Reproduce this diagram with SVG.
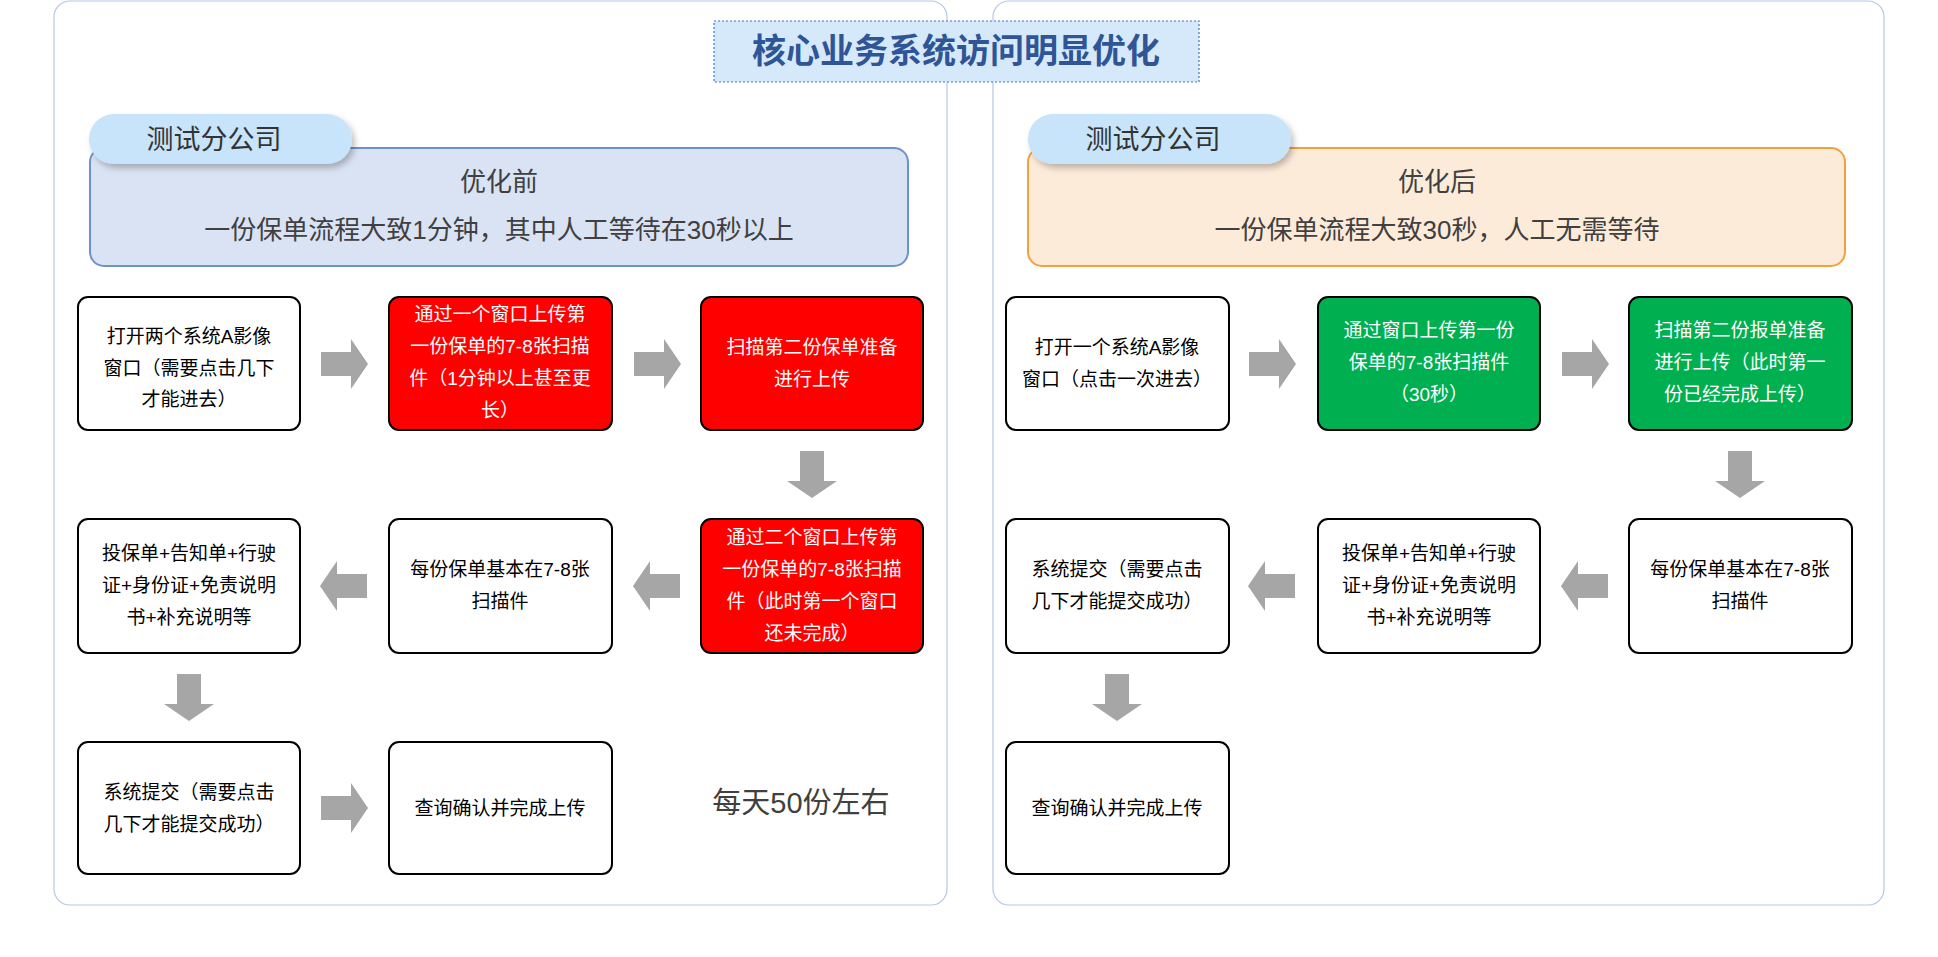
<svg xmlns="http://www.w3.org/2000/svg" width="1938" height="957" viewBox="0 0 1938 957">
<style>
text{font-family:"Liberation Sans","Noto Sans CJK SC",sans-serif;text-anchor:middle}
.panel{fill:#fff;stroke:#B4C7E7;stroke-width:1.2}
.node{stroke:#000;stroke-width:2}
.w{fill:#fff}.r{fill:#FF0000}.g{fill:#00B050}
.nt{font-size:19px;fill:#000}
.nw{font-size:19px;fill:#fff}
.arr{fill:#A6A6A6}
.tab{fill:#C7E4FA}
.ht{font-size:26px;fill:#404040}
</style>
<defs>
<path id="ra" class="arr" d="M-23,-12 H7 V-25 L24,0 L7,25 V12 H-23 Z"/>
<filter id="sh" x="-10%" y="-20%" width="130%" height="160%"><feDropShadow dx="3" dy="4" stdDeviation="3" flood-color="#000" flood-opacity="0.25"/></filter>
</defs>
<rect class="panel" x="54" y="1" width="893" height="904" rx="16"/>
<rect class="panel" x="993" y="1" width="891" height="904" rx="16"/>
<g id="title">
<rect x="714" y="21" width="485" height="61" fill="#D6E9FA" stroke="#4472C4" stroke-width="1.2" stroke-dasharray="2,2"/>
<text x="956" y="63" font-size="34" font-weight="bold" fill="#2F5597">核心业务系统访问明显优化</text>
</g>
<g id="header-left">
<rect x="90" y="148" width="818" height="118" rx="14" fill="#DAE3F3" stroke="#6D93CC" stroke-width="2"/>
<text class="ht" x="499" y="191">优化前</text>
<text class="ht" x="499" y="239">一份保单流程大致1分钟，其中人工等待在30秒以上</text>
</g>
<g id="tab-left">
<rect class="tab" x="89" y="114" width="263" height="50" rx="25" filter="url(#sh)"/>
<text x="214" y="149" font-size="27" fill="#333">测试分公司</text>
</g>
<g id="header-right">
<rect x="1028" y="148" width="817" height="118" rx="14" fill="#FDEBDA" stroke="#F5A03B" stroke-width="2"/>
<text class="ht" x="1437" y="191">优化后</text>
<text class="ht" x="1437" y="239">一份保单流程大致30秒，人工无需等待</text>
</g>
<g id="tab-right">
<rect class="tab" x="1028" y="114" width="263" height="50" rx="25" filter="url(#sh)"/>
<text x="1153" y="149" font-size="27" fill="#333">测试分公司</text>
</g>

<g id="L1"><rect class="node w" x="78" y="297" width="222" height="133" rx="10"/>
<text class="nt" x="189"><tspan x="189" y="343">打开两个系统A影像</tspan><tspan x="189" y="375">窗口（需要点击几下</tspan><tspan x="189" y="406">才能进去）</tspan></text></g>
<g id="L2"><rect class="node r" x="389" y="297" width="223" height="133" rx="10"/>
<text class="nw" x="500"><tspan x="500" y="321">通过一个窗口上传第</tspan><tspan x="500" y="353">一份保单的7-8张扫描</tspan><tspan x="500" y="385">件（1分钟以上甚至更</tspan><tspan x="500" y="417">长）</tspan></text></g>
<g id="L3"><rect class="node r" x="701" y="297" width="222" height="133" rx="10"/>
<text class="nw" x="812"><tspan x="812" y="354">扫描第二份保单准备</tspan><tspan x="812" y="386">进行上传</tspan></text></g>
<g id="L4"><rect class="node r" x="701" y="519" width="222" height="134" rx="10"/>
<text class="nw" x="812"><tspan x="812" y="544">通过二个窗口上传第</tspan><tspan x="812" y="576">一份保单的7-8张扫描</tspan><tspan x="812" y="608">件（此时第一个窗口</tspan><tspan x="812" y="640">还未完成）</tspan></text></g>
<g id="L5"><rect class="node w" x="389" y="519" width="223" height="134" rx="10"/>
<text class="nt" x="500"><tspan x="500" y="576">每份保单基本在7-8张</tspan><tspan x="500" y="608">扫描件</tspan></text></g>
<g id="L6"><rect class="node w" x="78" y="519" width="222" height="134" rx="10"/>
<text class="nt" x="189"><tspan x="189" y="560">投保单+告知单+行驶</tspan><tspan x="189" y="592">证+身份证+免责说明</tspan><tspan x="189" y="624">书+补充说明等</tspan></text></g>
<g id="L7"><rect class="node w" x="78" y="742" width="222" height="132" rx="10"/>
<text class="nt" x="189"><tspan x="189" y="799">系统提交（需要点击</tspan><tspan x="189" y="831">几下才能提交成功）</tspan></text></g>
<g id="L8"><rect class="node w" x="389" y="742" width="223" height="132" rx="10"/>
<text class="nt" x="500" y="815">查询确认并完成上传</text></g>
<text x="801" y="813" font-size="29" fill="#404040">每天50份左右</text>

<g id="R1"><rect class="node w" x="1006" y="297" width="223" height="133" rx="10"/>
<text class="nt" x="1117"><tspan x="1117" y="354">打开一个系统A影像</tspan><tspan x="1117" y="386">窗口（点击一次进去）</tspan></text></g>
<g id="R2"><rect class="node g" x="1318" y="297" width="222" height="133" rx="10"/>
<text class="nw" x="1429"><tspan x="1429" y="337">通过窗口上传第一份</tspan><tspan x="1429" y="369">保单的7-8张扫描件</tspan><tspan x="1429" y="401">（30秒）</tspan></text></g>
<g id="R3"><rect class="node g" x="1629" y="297" width="223" height="133" rx="10"/>
<text class="nw" x="1740"><tspan x="1740" y="337">扫描第二份报单准备</tspan><tspan x="1740" y="369">进行上传（此时第一</tspan><tspan x="1740" y="401">份已经完成上传）</tspan></text></g>
<g id="R4"><rect class="node w" x="1629" y="519" width="223" height="134" rx="10"/>
<text class="nt" x="1740"><tspan x="1740" y="576">每份保单基本在7-8张</tspan><tspan x="1740" y="608">扫描件</tspan></text></g>
<g id="R5"><rect class="node w" x="1318" y="519" width="222" height="134" rx="10"/>
<text class="nt" x="1429"><tspan x="1429" y="560">投保单+告知单+行驶</tspan><tspan x="1429" y="592">证+身份证+免责说明</tspan><tspan x="1429" y="624">书+补充说明等</tspan></text></g>
<g id="R6"><rect class="node w" x="1006" y="519" width="223" height="134" rx="10"/>
<text class="nt" x="1117"><tspan x="1117" y="576">系统提交（需要点击</tspan><tspan x="1117" y="608">几下才能提交成功）</tspan></text></g>
<g id="R7"><rect class="node w" x="1006" y="742" width="223" height="132" rx="10"/>
<text class="nt" x="1117" y="815">查询确认并完成上传</text></g>

<g id="connectors">
<use href="#ra" transform="translate(344,364)"/>
<use href="#ra" transform="translate(657,364)"/>
<use href="#ra" transform="translate(812,474) rotate(90)"/>
<use href="#ra" transform="translate(657,586) rotate(180)"/>
<use href="#ra" transform="translate(344,586) rotate(180)"/>
<use href="#ra" transform="translate(189,697) rotate(90)"/>
<use href="#ra" transform="translate(344,808)"/>
<use href="#ra" transform="translate(1272,364)"/>
<use href="#ra" transform="translate(1585,364)"/>
<use href="#ra" transform="translate(1740,474) rotate(90)"/>
<use href="#ra" transform="translate(1585,586) rotate(180)"/>
<use href="#ra" transform="translate(1272,586) rotate(180)"/>
<use href="#ra" transform="translate(1117,697) rotate(90)"/>
</g>
</svg>
